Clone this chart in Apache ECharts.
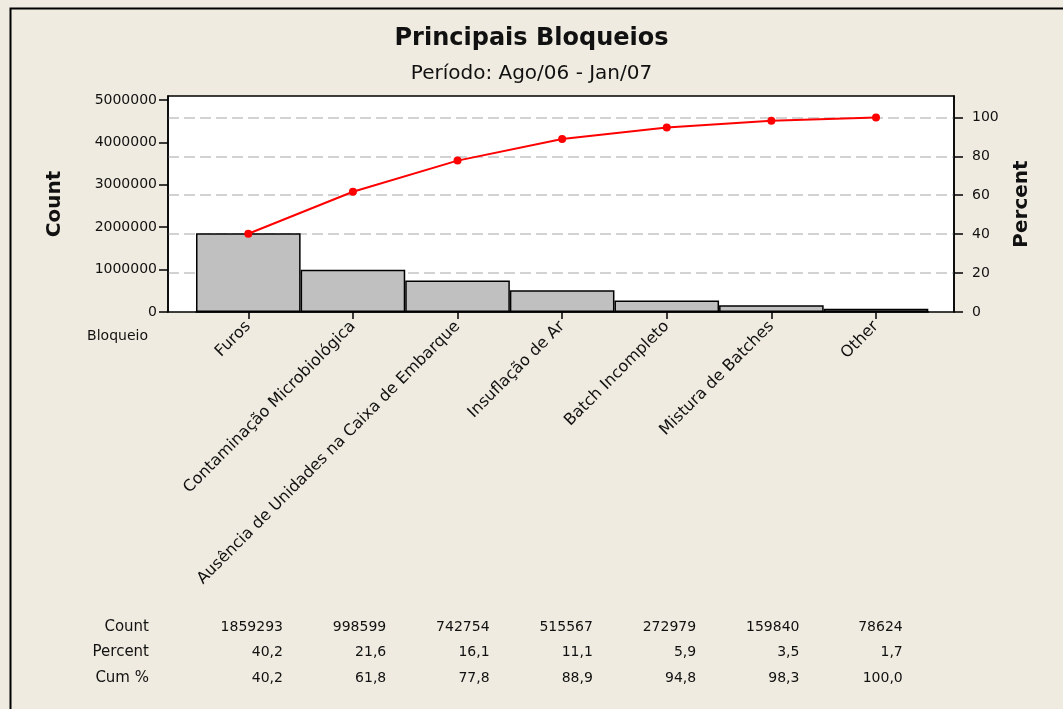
<!DOCTYPE html>
<html>
<head>
<meta charset="utf-8">
<title>Principais Bloqueios</title>
<script src="https://cdn.jsdelivr.net/npm/echarts@6/dist/echarts.min.js"></script>
<style>
  html, body { margin: 0; padding: 0; background: #EFEBE0; }
  #chart { width: 1063px; height: 709px; }
</style>
</head>
<body>
<div id="chart"></div>
<script>
// dados do grafico de Pareto
var categorias = ['Furos', 'Contaminação Microbiológica', 'Ausência de Unidades na Caixa de Embarque',
  'Insuflação de Ar', 'Batch Incompleto', 'Mistura de Batches', 'Other'];
var contagens = [1859293, 998599, 742754, 515567, 272979, 159840, 78624];
var percentuais = [40.2, 21.6, 16.1, 11.1, 5.9, 3.5, 1.7];
var acumulados = [40.2, 61.8, 77.8, 88.9, 94.8, 98.3, 100.0];
var ticksCount = [0, 1000000, 2000000, 3000000, 4000000, 5000000];
var ticksPercent = [0, 20, 40, 60, 80, 100];
var linhasTabela = ['Count', 'Percent', 'Cum %'];

var fonte = 'DejaVu Sans';
var corTexto = '#111';

function fmt(v) {
  return v.toFixed(1).replace('.', ',');
}

var chart = echarts.init(document.getElementById('chart'));

var maxCount = 5094000;
var maxPercent = 111;
var offsets = [315, 340, 366];

// linhas da tabela de baixo
function eixoTabela(valores, offset) {
  return {
    type: 'category',
    gridIndex: 2,
    position: 'bottom',
    offset: offset,
    data: valores,
    axisLine: { show: false },
    axisTick: { show: false },
    axisLabel: {
      interval: 0, margin: 0, align: 'right', verticalAlign: 'middle',
      color: corTexto, fontFamily: fonte, fontSize: 14
    }
  };
}

var graficos = [
  {
    type: 'rect', left: 8, top: 6, z: -1,
    shape: { width: 1100, height: 800 },
    style: { fill: 'none', stroke: '#000', lineWidth: 2 }
  },
  {
    type: 'text', x: 148, y: 336,
    style: { text: 'Bloqueio', align: 'right', verticalAlign: 'middle', fill: corTexto, font: '14px "DejaVu Sans"' }
  }
];
linhasTabela.forEach(function (nome, i) {
  graficos.push({
    type: 'text', x: 149, y: 312 + offsets[i],
    style: { text: nome, align: 'right', verticalAlign: 'middle', fill: corTexto, font: '15px "DejaVu Sans"' }
  });
});

chart.setOption({
  backgroundColor: '#EFEBE0',
  animation: false,
  title: [
    {
      text: 'Principais Bloqueios', left: 'center', top: 22,
      textStyle: { fontFamily: fonte, fontSize: 24, fontWeight: 'bold', color: corTexto }
    },
    {
      text: 'Período: Ago/06 - Jan/07', left: 'center', top: 59,
      textStyle: { fontFamily: fonte, fontSize: 20, fontWeight: 'normal', color: corTexto }
    }
  ],
  graphic: graficos,
  grid: [
    { left: 168, right: 109, top: 96, bottom: 397, show: true, backgroundColor: '#fff', borderColor: '#000', borderWidth: 1.5 },
    { left: 196, right: 134.7, top: 96, bottom: 397 },
    { left: 231.3, right: 108.6, top: 96, bottom: 397 }
  ],
  xAxis: [
    { type: 'value', gridIndex: 0, show: false },
    {
      type: 'category', gridIndex: 1, data: categorias,
      axisLine: { show: true, lineStyle: { color: '#000', width: 1.5 } },
      axisTick: { show: true, alignWithLabel: true, length: 7, lineStyle: { color: '#000', width: 1.5 } },
      axisLabel: {
        interval: 0, rotate: 45, margin: 12,
        color: corTexto, fontFamily: fonte, fontSize: 16
      }
    },
    eixoTabela(contagens.map(String), offsets[0]),
    eixoTabela(percentuais.map(fmt), offsets[1]),
    eixoTabela(acumulados.map(fmt), offsets[2])
  ],
  yAxis: [
    {
      type: 'value', gridIndex: 0, position: 'left', min: 0, max: maxCount,
      name: 'Count', nameLocation: 'middle', nameGap: 103, nameRotate: 90,
      nameTextStyle: { fontFamily: fonte, fontSize: 20, fontWeight: 'bold', color: corTexto },
      axisLine: { show: true, lineStyle: { color: '#000', width: 1.5 } },
      axisTick: { show: true, length: 9, customValues: ticksCount, lineStyle: { color: '#000', width: 1.5 } },
      axisLabel: {
        customValues: ticksCount, margin: 11, color: corTexto, fontFamily: fonte, fontSize: 14,
        formatter: function (v) { return String(v); }
      },
      splitLine: { show: false }
    },
    {
      type: 'value', gridIndex: 0, position: 'right', min: 0, max: maxPercent, interval: 20,
      name: 'Percent', nameLocation: 'middle', nameGap: 58, nameRotate: 90,
      nameTextStyle: { fontFamily: fonte, fontSize: 20, fontWeight: 'bold', color: corTexto },
      axisLine: { show: true, lineStyle: { color: '#000', width: 1.5 } },
      axisTick: { show: true, length: 9, customValues: ticksPercent, lineStyle: { color: '#000', width: 1.5 } },
      axisLabel: { customValues: ticksPercent, margin: 18, color: corTexto, fontFamily: fonte, fontSize: 14 },
      splitLine: { show: true, showMinLine: false, showMaxLine: true, lineStyle: { color: '#C4C4C4', width: 1.5, type: [11, 5] } }
    },
    { type: 'value', gridIndex: 1, min: 0, max: maxCount, show: false, splitLine: { show: false } },
    { type: 'value', gridIndex: 1, min: 0, max: maxPercent, show: false, splitLine: { show: false } },
    { type: 'value', gridIndex: 2, show: false, splitLine: { show: false } }
  ],
  series: [
    {
      name: 'Count', type: 'bar', xAxisIndex: 1, yAxisIndex: 2,
      data: contagens, barCategoryGap: 0,
      itemStyle: { color: '#C0C0C0', borderColor: '#000', borderWidth: 1.5 }
    },
    {
      name: 'Cum %', type: 'line', xAxisIndex: 1, yAxisIndex: 3,
      data: acumulados, symbol: 'circle', symbolSize: 8,
      lineStyle: { color: '#FF0000', width: 2 },
      itemStyle: { color: '#FF0000' }
    }
  ]
});
</script>
</body>
</html>
